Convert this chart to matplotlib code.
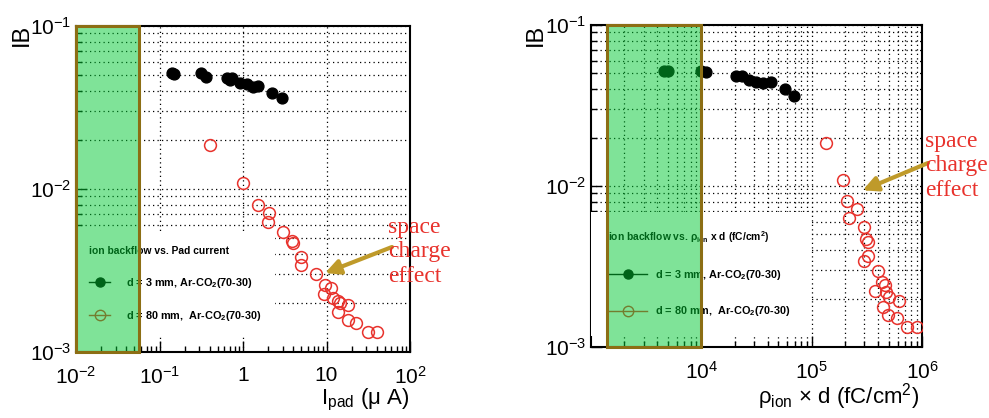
import matplotlib
matplotlib.use("Agg")
import matplotlib.pyplot as plt
from matplotlib.lines import Line2D
from matplotlib.patches import Rectangle
from matplotlib.ticker import LogLocator, FuncFormatter, NullFormatter
import math

plt.rcParams['font.family'] = ['Liberation Sans', 'DejaVu Sans']
plt.rcParams['mathtext.fontset'] = 'custom'
plt.rcParams['mathtext.rm'] = 'Liberation Sans'
plt.rcParams['mathtext.it'] = 'Liberation Sans:italic'
plt.rcParams['mathtext.bf'] = 'Liberation Sans:bold'
plt.rcParams['mathtext.default'] = 'regular'

# ---- left panel: IB vs pad current (uA)
ipad_3mm = [0.141, 0.148, 0.314, 0.36, 0.643, 0.738, 0.70, 0.92, 1.12, 1.32, 1.51, 2.22, 2.93]
ib_3mm = [0.0515, 0.0508, 0.0515, 0.0487, 0.048, 0.048, 0.0467, 0.0447, 0.044, 0.0422, 0.0429, 0.0388, 0.0361]

ipad_80mm = [0.403, 1.0, 1.51, 2.05, 1.99, 3.01, 3.86, 3.97, 4.95, 4.95, 7.48, 9.6,
             11.3, 9.33, 12.0, 13.7, 14.5, 18.1, 13.7, 18.1, 22.5, 31.4, 40.3]
ib_80mm = [0.0186, 0.0109, 0.0080, 0.00713, 0.00628, 0.00545, 0.0048, 0.00467, 0.00383,
           0.00342, 0.00301, 0.00258, 0.00247, 0.00227, 0.00214, 0.00205, 0.0020, 0.00194,
           0.00176, 0.00157, 0.00151, 0.00133, 0.00133]

# ---- right panel: IB vs rho_ion x d (fC/cm2)
rho_3mm = [4.6e3, 5.0e3, 1.0e4, 1.11e4, 2.08e4, 2.36e4, 2.73e4, 3.16e4, 3.59e4, 4.24e4, 5.69e4, 6.86e4]
ibr_3mm = [0.0518, 0.0518, 0.0518, 0.051, 0.0482, 0.0482, 0.0455, 0.0442, 0.0436, 0.0442, 0.040, 0.0362]

rho_80mm = [1.34e5, 1.91e5, 2.08e5, 2.56e5, 2.17e5, 2.97e5, 3.1e5, 3.23e5, 3.23e5, 2.97e5, 3.98e5,
            4.33e5, 4.61e5, 3.74e5, 4.71e5, 5.0e5, 6.18e5, 4.42e5, 4.91e5, 5.93e5, 7.3e5, 9.0e5]
ibr_80mm = [0.0185, 0.0109, 0.0081, 0.0072, 0.0063, 0.0056, 0.0047, 0.0045, 0.0037, 0.0034, 0.00297,
            0.00253, 0.00243, 0.00223, 0.0022, 0.00205, 0.00193, 0.00177, 0.00158, 0.00151, 0.00133, 0.00133]

# green band (region x-ranges)
band_left = (0.01, 0.057)
band_right = (1.4e3, 1.0e4)

label_3mm = "d = 3 mm, Ar-CO$_2$(70-30)"
label_80mm = "d = 80 mm,  Ar-CO$_2$(70-30)"

RED = '#e8322c'
GREEN = '#00c832'
OLIVE = '#8c6e14'
ARROW = '#bf9a2a'
W, H = 989, 418


def fmt_log(v, pos):
    if v <= 0:
        return ''
    e = int(round(math.log10(v)))
    if e == 0:
        return '1'
    if e == 1:
        return '10'
    return r'$10^{%d}$' % e


def style_axes(ax, xlim, xmajor):
    ax.set_xscale('log')
    ax.set_yscale('log')
    ax.set_xlim(*xlim)
    ax.set_ylim(1e-3, 1e-1)
    ax.set_xticks(xmajor)
    ax.xaxis.set_minor_locator(LogLocator(base=10, subs=range(2, 10), numticks=20))
    ax.xaxis.set_minor_formatter(NullFormatter())
    ax.xaxis.set_major_formatter(FuncFormatter(fmt_log))
    ax.set_yticks([1e-3, 1e-2, 1e-1])
    ax.yaxis.set_minor_locator(LogLocator(base=10, subs=range(2, 10), numticks=20))
    ax.yaxis.set_minor_formatter(NullFormatter())
    ax.yaxis.set_major_formatter(FuncFormatter(fmt_log))
    ax.tick_params(which='both', direction='in', labelsize=15, color='black')
    ax.tick_params(which='major', length=8, width=1)
    ax.tick_params(which='minor', length=4, width=1)
    ax.tick_params(axis='x', pad=10)
    for s in ax.spines.values():
        s.set_linewidth(1.5)


def add_band(ax, band):
    ax.axvspan(band[0], band[1], color=GREEN, alpha=0.5, lw=0, zorder=6)
    ax.add_patch(Rectangle((band[0], 1e-3), band[1] - band[0], 1e-1 - 1e-3,
                           fill=False, edgecolor=OLIVE, lw=2.2, zorder=7, clip_on=False))


def add_legend(ax, title, anchor, hlen, hpad, bpad, lspace):
    handles = [Line2D([], [], color='black', marker='o', ms=6.5, lw=1),
               Line2D([], [], color=RED, marker='o', ms=7.5, mfc='none', lw=1)]
    leg = ax.legend(handles, [label_3mm, label_80mm], loc='upper left', bbox_to_anchor=anchor,
                    title=title, frameon=True, facecolor='white', edgecolor='none', framealpha=1,
                    fancybox=False, prop={'weight': 'bold', 'size': 7.8}, labelspacing=lspace,
                    handlelength=hlen, handletextpad=hpad, borderpad=bpad, borderaxespad=0,
                    alignment='left')
    leg.get_title().set_fontsize(7.4)
    leg.get_title().set_fontweight('bold')
    leg.set_zorder(5)


grid_kw = dict(color='black', lw=0.9, linestyle=(0, (1, 2.6)))
note_kw = dict(fontsize=17, color=RED, family=['Liberation Serif', 'DejaVu Serif'],
               ha='left', va='center', linespacing=1.2)
arrow_kw = dict(arrowstyle='-|>', color=ARROW, lw=3, mutation_scale=22, shrinkA=0, shrinkB=0)

fig = plt.figure(figsize=(W / 100, H / 100), dpi=100)

# left
ax1 = fig.add_axes([76 / W, 1 - 352 / H, 334 / W, 326 / H])
style_axes(ax1, (1e-2, 1e2), [1e-2, 1e-1, 1, 10, 100])
ax1.grid(which='major', axis='x', **grid_kw)
ax1.grid(which='both', axis='y', **grid_kw)
ax1.plot(ipad_3mm, ib_3mm, 'o', color='black', ms=7.8, zorder=3)
ax1.plot(ipad_80mm, ib_80mm, 'o', mfc='none', mec=RED, ms=8.5, mew=1.1, zorder=3)
add_legend(ax1, "ion backflow vs. Pad current", (0, 0.365), 1.95, 1.5, 1.2, 1.8)
add_band(ax1, band_left)
fig.text(409 / W, 1 - 400 / H, r'I$_{pad}$ ($\mu$ A)', fontsize=16, ha='right', va='center')
fig.text(22 / W, 1 - 24 / H, 'IB', fontsize=17, rotation=90, ha='center', va='top')
ax1.annotate('', xy=(9.6, 0.00305), xycoords='data', xytext=(392 / W, 1 - 247 / H),
             textcoords='figure fraction', annotation_clip=False, arrowprops=arrow_kw)
fig.text(388 / W, 1 - 252 / H, 'space\ncharge\neffect', **note_kw)

# right
ax2 = fig.add_axes([591 / W, 1 - 347 / H, 331 / W, 322 / H])
style_axes(ax2, (1e3, 1e6), [1e4, 1e5, 1e6])
ax2.grid(which='both', axis='both', **grid_kw)
ax2.plot(rho_3mm, ibr_3mm, 'o', color='black', ms=7.8, zorder=3)
ax2.plot(rho_80mm, ibr_80mm, 'o', mfc='none', mec=RED, ms=8.5, mew=1.1, zorder=3)
add_legend(ax2, r"ion backflow vs. $\rho_{ion}$ x d (fC/cm$^2$)", (0, 0.42), 3.6, 0.75, 1.6, 2.1)
add_band(ax2, band_right)
fig.text(919 / W, 1 - 397 / H, r'$\rho_{ion}$ $\times$ d (fC/cm$^{2}$)', fontsize=16, ha='right', va='center')
fig.text(536 / W, 1 - 24 / H, 'IB', fontsize=17, rotation=90, ha='center', va='top')
ax2.annotate('', xy=(2.9e5, 0.0094), xycoords='data', xytext=(928 / W, 1 - 163 / H),
             textcoords='figure fraction', annotation_clip=False, arrowprops=arrow_kw)
fig.text(925 / W, 1 - 166 / H, 'space\ncharge\neffect', **note_kw)

fig.savefig('out.png', dpi=100)
